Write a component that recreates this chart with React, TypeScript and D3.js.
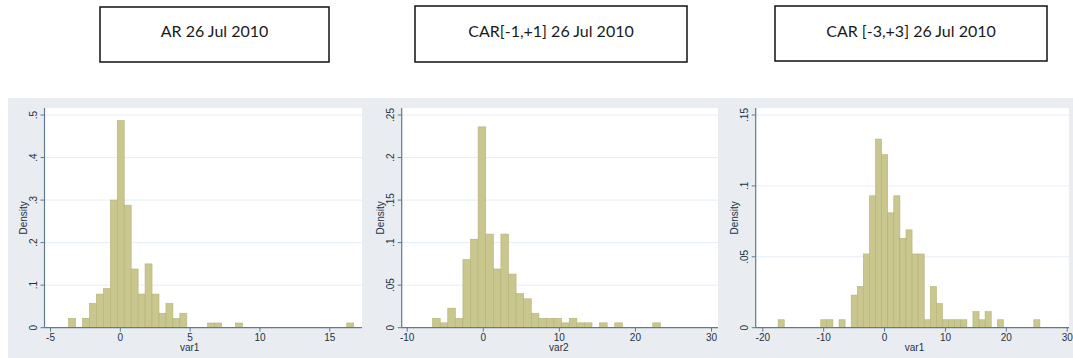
import React, { useRef, useEffect } from 'react';
import * as d3 from 'd3';

// Titles above the three histograms
const titles = ['AR 26 Jul 2010', 'CAR[-1,+1] 26 Jul 2010', 'CAR [-3,+3] 26 Jul 2010'];

// Histogram densities (one value per bin, left to right)
const arDensity = [
  0.022, 0, 0.022, 0.057, 0.079, 0.092, 0.3, 0.487, 0.288, 0.138, 0.079, 0.15, 0.079, 0.034,
  0.057, 0.022, 0.034, 0, 0, 0, 0.011, 0.011, 0, 0, 0.011, 0, 0, 0, 0, 0, 0, 0, 0, 0, 0, 0,
  0, 0, 0, 0, 0.011,
];
const car1Density = [
  0.011, 0.0057, 0.023, 0.011, 0.08, 0.104, 0.236, 0.11, 0.069, 0.11, 0.063, 0.04, 0.034,
  0.017, 0.011, 0.011, 0.011, 0.0057, 0.011, 0.0057, 0.0057, 0, 0.0057, 0, 0.0057, 0, 0, 0, 0,
  0.0057,
];
const car3Density = [
  0.0056, 0, 0, 0, 0, 0, 0, 0.0056, 0.0056, 0, 0.0056, 0, 0.023, 0.029, 0.052, 0.093, 0.133,
  0.122, 0.081, 0.093, 0.063, 0.069, 0.052, 0.052, 0.0056, 0.029, 0.017, 0.0056, 0.0056, 0.0056,
  0.0056, 0, 0.0113, 0.0056, 0.0113, 0, 0.0056, 0, 0, 0, 0, 0, 0.0056,
];

// Bin start / width of each histogram
const binStarts = [-3.67, -6.6, -17.4];
const binWidths = [0.498, 0.998, 1.0];

// Axis ticks and labels
const xTicks = [
  [-5, 0, 5, 10, 15],
  [-10, 0, 10, 20, 30],
  [-20, -10, 0, 10, 20, 30],
];
const yTicks = [
  [0, 0.1, 0.2, 0.3, 0.4, 0.5],
  [0, 0.05, 0.1, 0.15, 0.2, 0.25],
  [0, 0.05, 0.1, 0.15],
];
const yTickLabels = [
  ['0', '.1', '.2', '.3', '.4', '.5'],
  ['0', '.05', '.1', '.15', '.2', '.25'],
  ['0', '.05', '.1', '.15'],
];
const xTitles = ['var1', 'var2', 'var1'];

const W = 1073;
const H = 358;

export default function App() {
  const ref = useRef<SVGSVGElement>(null);

  useEffect(() => {
    const svg = d3.select(ref.current);
    svg.selectAll('*').remove();

    const fontAxis = 'Liberation Sans, Arial, sans-serif';
    const axisColor = '#5d7a92';
    const textColor = '#23323f';

    // title boxes
    const boxes = [
      { x0: 100, x1: 329, y0: 7, y1: 62 },
      { x0: 415, x1: 687, y0: 6, y1: 62 },
      { x0: 775, x1: 1047, y0: 6, y1: 61 },
    ];
    boxes.forEach((b, i) => {
      svg.append('rect')
        .attr('x', b.x0).attr('y', b.y0)
        .attr('width', b.x1 - b.x0).attr('height', b.y1 - b.y0)
        .attr('fill', '#fff').attr('stroke', '#111').attr('stroke-width', 1.5);
      svg.append('text')
        .attr('x', (b.x0 + b.x1) / 2).attr('y', 37)
        .attr('text-anchor', 'middle')
        .style('font-family', 'Lato, "Open Sans", sans-serif')
        .style('font-size', '16px')
        .attr('fill', '#1a1a1a')
        .text(titles[i]);
    });

    // grey graph region
    svg.append('rect')
      .attr('x', 8).attr('y', 98).attr('width', W - 8).attr('height', H - 98)
      .attr('fill', '#e9edf2');

    const yZero = 327.7;
    const yTop = 108;
    const yTopTick = 115;

    const panels = [
      { left: 44.5, right: 362, tick0: 50, tick1: 329.3 },
      { left: 401.7, right: 718, tick0: 406.7, tick1: 711 },
      { left: 755.7, right: 1069, tick0: 762.3, tick1: 1066.7 },
    ];
    const densities = [arDensity, car1Density, car3Density];

    panels.forEach((p, i) => {
      const xt = xTicks[i];
      const yt = yTicks[i];
      const x = d3.scaleLinear()
        .domain([xt[0], xt[xt.length - 1]])
        .range([p.tick0, p.tick1]);
      const topTick = yt[yt.length - 1];
      const y = d3.scaleLinear()
        .domain([0, topTick])
        .range([yZero, yTopTick]);

      const g = svg.append('g');

      // white plot region
      g.append('rect')
        .attr('x', p.left).attr('y', yTop)
        .attr('width', p.right - p.left).attr('height', yZero - yTop)
        .attr('fill', '#fff');

      // grid lines
      g.selectAll('.grid')
        .data(yt.slice(1))
        .enter().append('line')
        .attr('x1', p.left).attr('x2', p.right)
        .attr('y1', d => y(d)).attr('y2', d => y(d))
        .attr('stroke', '#e6eef6').attr('stroke-width', 1);

      // bars
      const bins = densities[i].map((d, k) => ({
        x0: binStarts[i] + k * binWidths[i],
        x1: binStarts[i] + (k + 1) * binWidths[i],
        d,
      })).filter(b => b.d > 0);
      g.selectAll('.bar')
        .data(bins)
        .enter().append('rect')
        .attr('x', b => x(b.x0))
        .attr('width', b => x(b.x1) - x(b.x0))
        .attr('y', b => y(b.d))
        .attr('height', b => y(0) - y(b.d))
        .attr('fill', '#c9c78e')
        .attr('stroke', '#b3b175')
        .attr('stroke-width', 0.6);

      // x axis
      const xAxis = d3.axisBottom(x).tickValues(xt).tickSize(4).tickSizeOuter(0)
        .tickFormat(d => String(d));
      const gx = g.append('g')
        .attr('transform', `translate(0,${yZero})`)
        .call(xAxis);
      gx.select('.domain').remove();
      gx.selectAll('line').attr('stroke', axisColor);
      gx.selectAll('text')
        .attr('fill', textColor)
        .attr('y', 6)
        .style('font-family', fontAxis)
        .style('font-size', '10px');
      g.append('line')
        .attr('x1', p.left).attr('x2', p.right)
        .attr('y1', yZero).attr('y2', yZero)
        .attr('stroke', axisColor).attr('stroke-width', 1.2);

      // y axis
      g.append('line')
        .attr('x1', p.left).attr('x2', p.left)
        .attr('y1', yTop).attr('y2', yZero)
        .attr('stroke', axisColor).attr('stroke-width', 1.2);
      g.selectAll('.ytick')
        .data(yt)
        .enter().append('line')
        .attr('x1', p.left - 4).attr('x2', p.left)
        .attr('y1', d => y(d)).attr('y2', d => y(d))
        .attr('stroke', axisColor);
      g.selectAll('.ylab')
        .data(yt)
        .enter().append('text')
        .attr('transform', d => `translate(${p.left - 8},${y(d)}) rotate(-90)`)
        .attr('text-anchor', 'middle')
        .attr('fill', textColor)
        .style('font-family', fontAxis)
        .style('font-size', '10px')
        .text((d, k) => yTickLabels[i][k]);

      // axis titles
      g.append('text')
        .attr('transform', `translate(${p.left - 18},${(yTop + yZero) / 2}) rotate(-90)`)
        .attr('text-anchor', 'middle')
        .attr('fill', textColor)
        .style('font-family', fontAxis)
        .style('font-size', '10px')
        .text('Density');
      g.append('text')
        .attr('x', x((xt[0] + xt[xt.length - 1]) / 2))
        .attr('y', 351)
        .attr('text-anchor', 'middle')
        .attr('fill', textColor)
        .style('font-family', fontAxis)
        .style('font-size', '10px')
        .text(xTitles[i]);
    });
  }, []);

  return (
    <svg
      ref={ref}
      width={W}
      height={H}
      style={{ position: 'absolute', left: 0, top: 0, background: '#fff' }}
    />
  );
}
